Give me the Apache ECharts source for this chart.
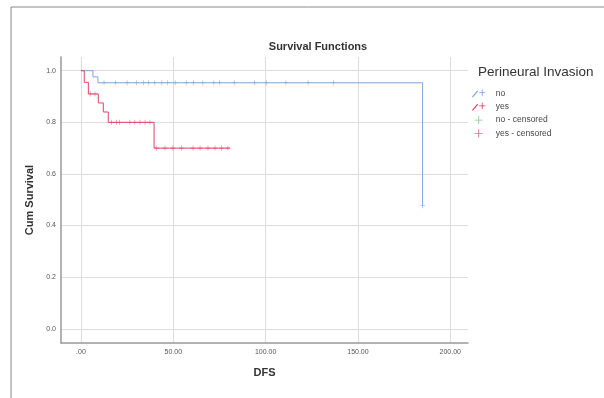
<!DOCTYPE html>
<html>
<head>
<meta charset="utf-8">
<script src="https://cdn.jsdelivr.net/npm/echarts@6/dist/echarts.min.js"></script>
<style>
  html, body { margin: 0; padding: 0; background: #fff; }
  #chart { width: 604px; height: 398px; }
</style>
</head>
<body>
<div id="chart"></div>
<script>
// Kaplan-Meier steps (time, cumulative survival)
const noTimes = [0, 6.5, 9.2, 185];
const noSurv = [1, 0.976, 0.953, 0.477];
const yesTimes = [0, 1.8, 4.0, 9.4, 12.1, 14.8, 39.6, 80.7];
const yesSurv = [1, 0.955, 0.91, 0.875, 0.84, 0.8, 0.7, 0.7];

// censored cases (time only, survival taken from the step curve)
const noCensored = [12.5, 18.8, 25, 30, 34, 36.5, 40, 43.8, 47, 51, 57, 61, 66, 72, 75, 83, 94, 100.6, 111, 123, 136.7, 185];
const yesCensored = [5, 7.6, 16.6, 19.3, 21, 26.5, 29.2, 32, 34.7, 37.4, 41, 45.5, 49.8, 54.5, 60.7, 64.5, 68.8, 72.6, 76.2, 79.6];

const xTicks = [0, 50, 100, 150, 200];
const xTickLabels = [".00", "50.00", "100.00", "150.00", "200.00"];
const yTicks = [0, 0.2, 0.4, 0.6, 0.8, 1.0];
const yTickLabels = ["0.0", "0.2", "0.4", "0.6", "0.8", "1.0"];

const groupNames = ["no", "yes"];
const censorNames = ["no - censored", "yes - censored"];

const blue = "#7ea6db";
const red = "#e0436a";
const green = "#6fbf86";
const plus = "path://M4,0h1v4h4v1h-4v4h-1v-4h-4v-1h4z";
const stepIcon = "path://M0,9L6,2L7,3L1,10Z M11,1h1v3h3v1h-3v3h-1v-3h-3v-1h3z";

function survAt(times, surv, t) {
  let v = surv[0];
  times.forEach((tt, i) => { if (t >= tt) v = surv[i]; });
  return v;
}

const chart = echarts.init(document.getElementById("chart"), null, { renderer: "canvas" });

chart.setOption({
  backgroundColor: "#fff",
  animation: false,
  textStyle: { fontFamily: "Liberation Sans, Arial, sans-serif" },
  title: [
    {
      text: "Survival Functions",
      left: 318, top: 41, textAlign: "center", padding: 0,
      textStyle: { fontSize: 11, fontWeight: "bold", color: "#333" }
    },
    {
      text: "Perineural Invasion",
      left: 478, top: 65, padding: 0,
      textStyle: { fontSize: 13.5, fontWeight: "normal", color: "#333" }
    }
  ],
  graphic: [
    { type: "line", shape: { x1: 11, y1: 7, x2: 604, y2: 7 }, style: { stroke: "#888", lineWidth: 1 } },
    { type: "line", shape: { x1: 11, y1: 7, x2: 11, y2: 398 }, style: { stroke: "#888", lineWidth: 1 } }
  ],
  legend: {
    orient: "vertical",
    left: 472, top: 89, padding: 0,
    itemWidth: 24, itemHeight: 8, itemGap: 4.3,
    textStyle: { fontSize: 8.5, color: "#444" },
    data: [
      { name: groupNames[0], icon: stepIcon, itemStyle: { color: blue } },
      { name: groupNames[1], icon: stepIcon, itemStyle: { color: red } },
      { name: censorNames[0], icon: plus, itemStyle: { color: green } },
      { name: censorNames[1], icon: plus, itemStyle: { color: red } }
    ]
  },
  grid: { left: 61, right: 136, top: 57, bottom: 55 },
  xAxis: {
    type: "value",
    min: -10.8, max: 209.6,
    name: "DFS", nameLocation: "middle", nameGap: 24, nameMoveOverlap: false,
    nameTextStyle: { fontSize: 11, fontWeight: "bold", color: "#333" },
    axisLine: { show: true, onZero: false, lineStyle: { color: "#999", width: 1.5 } },
    axisTick: { show: false, customValues: xTicks },
    axisLabel: {
      customValues: xTicks, fontSize: 7, color: "#555", margin: 6,
      formatter: (v) => xTickLabels[xTicks.indexOf(v)]
    },
    splitLine: { show: true, lineStyle: { color: "#ddd", width: 1 } }
  },
  yAxis: {
    type: "value",
    min: -0.055, max: 1.053,
    name: "Cum Survival", nameLocation: "middle", nameGap: 26, nameMoveOverlap: false,
    nameTextStyle: { fontSize: 11, fontWeight: "bold", color: "#333" },
    axisLine: { show: true, onZero: false, lineStyle: { color: "#999", width: 1.5 } },
    axisTick: { show: false, customValues: yTicks },
    axisLabel: {
      customValues: yTicks, fontSize: 7, color: "#555", margin: 5,
      formatter: (v) => yTickLabels[yTicks.indexOf(v)]
    },
    splitLine: { show: true, lineStyle: { color: "#ddd", width: 1 } }
  },
  series: [
    {
      name: groupNames[0], type: "line", step: "end", showSymbol: false,
      lineStyle: { color: blue, width: 1 }, itemStyle: { color: blue },
      data: noTimes.map((t, i) => [t, noSurv[i]])
    },
    {
      name: groupNames[1], type: "line", step: "end", showSymbol: false,
      lineStyle: { color: red, width: 1 }, itemStyle: { color: red },
      data: yesTimes.map((t, i) => [t, yesSurv[i]])
    },
    {
      name: censorNames[0], type: "scatter", symbol: plus, symbolSize: 5,
      itemStyle: { color: "#6f93c9" },
      data: noCensored.map((t) => [t, survAt(noTimes, noSurv, t)])
    },
    {
      name: censorNames[1], type: "scatter", symbol: plus, symbolSize: 5,
      itemStyle: { color: red },
      data: yesCensored.map((t) => [t, survAt(yesTimes, yesSurv, t)])
    }
  ]
});
</script>
</body>
</html>
